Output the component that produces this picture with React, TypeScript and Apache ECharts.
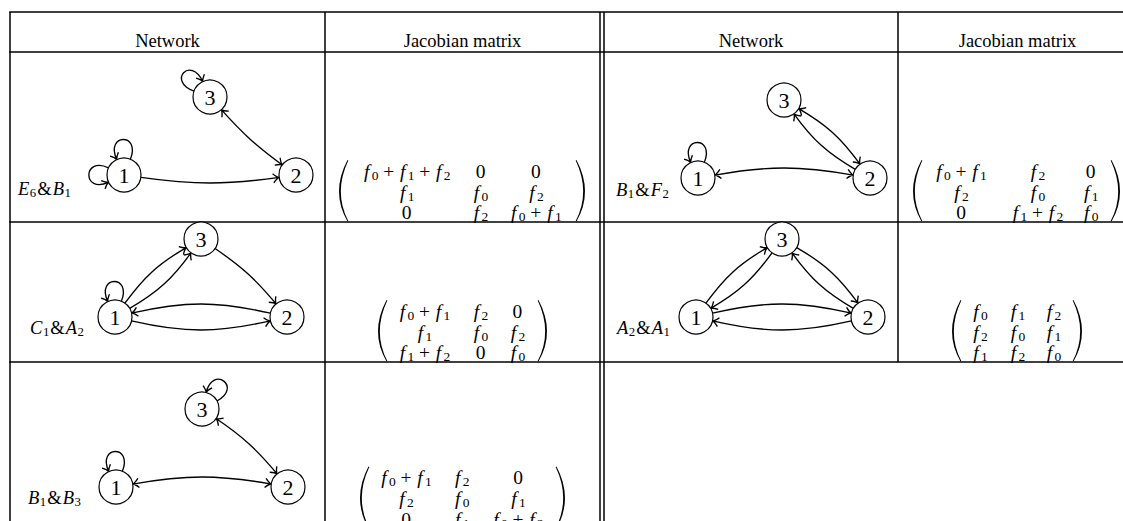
import { useEffect, useRef } from 'react';
import * as echarts from 'echarts';

const W = 1123;
const H = 521;

// ================= DATA =================
const headerLabels = ['Network', 'Jacobian matrix', 'Network', 'Jacobian matrix'];
const networkLabels = ['E6&B1', 'B1&F2', 'C1&A2', 'A2&A1', 'B1&B3'];
const nodeNames = ['1', '2', '3'];

// edges: [from, to, bend in degrees (+ = bends to the left of travel), arrow at start, arrow at end]
const edgesE6B1 = [[1, 2, -8, 0, 1], [3, 2, -6, 1, 1]];
const edgesB1F2 = [[1, 2, 10, 1, 1], [3, 2, 12, 1, 1], [2, 3, 12, 0, 1]];
const edgesC1A2 = [[1, 3, 12, 0, 1], [1, 3, -12, 0, 1], [3, 2, 8, 0, 1], [2, 1, -13, 0, 1], [1, 2, -13, 0, 1]];
const edgesA2A1 = [[1, 3, 12, 0, 1], [3, 1, 12, 0, 1], [3, 2, 12, 0, 1], [2, 3, 12, 0, 1], [1, 2, 13, 0, 1], [2, 1, 13, 0, 1]];
const edgesB1B3 = [[1, 2, 10, 1, 1], [3, 2, 8, 1, 1]];

// self loops: [node, out angle, in angle (arrow)]
const loopsE6B1 = [[1, 68, 115], [1, 155, 205], [3, 160, 115]];
const loopsB1F2 = [[1, 68, 115]];
const loopsC1A2 = [[1, 68, 115]];
const loopsA2A1: number[][] = [];
const loopsB1B3 = [[1, 68, 115], [3, 28, 76]];

const matrixE6B1 = [['f0+f1+f2', '0', '0'], ['f1', 'f0', 'f2'], ['0', 'f2', 'f0+f1']];
const matrixB1F2 = [['f0+f1', 'f2', '0'], ['f2', 'f0', 'f1'], ['0', 'f1+f2', 'f0']];
const matrixC1A2 = [['f0+f1', 'f2', '0'], ['f1', 'f0', 'f2'], ['f1+f2', '0', 'f0']];
const matrixA2A1 = [['f0', 'f1', 'f2'], ['f2', 'f0', 'f1'], ['f1', 'f2', 'f0']];
const matrixB1B3 = [['f0+f1', 'f2', '0'], ['f2', 'f0', 'f1'], ['0', 'f1', 'f0+f2']];

const networkEdges = [edgesE6B1, edgesB1F2, edgesC1A2, edgesA2A1, edgesB1B3];
const networkLoops = [loopsE6B1, loopsB1F2, loopsC1A2, loopsA2A1, loopsB1B3];
const networkMatrices = [matrixE6B1, matrixB1F2, matrixC1A2, matrixA2A1, matrixB1B3];

// ================= LAYOUT =================
const FAM = '"Liberation Serif"';
const HEADER_SIZE = 18.5;
const LABEL_SIZE = 18.5;
const MATRIX_SIZE = 19.5;
const NODE_R = 17;
const HEADER_POS = [[167.5, 41], [462.5, 41], [751, 41], [1017.5, 41]];
const NODE1_POS = [[124, 175], [698, 178], [115, 317], [696, 317], [116, 487]];
const TRIANGLE = [[0, 0], [172, 0], [86, -78]];
const LABEL_POS = [[18, 189], [616, 190], [30, 328], [617, 328], [28, 498]];
const MATRIX_LAYOUT = [
  { cols: [406.7, 480.5, 535.8], rows: [171, 192, 212], lp: 339, rp: 585 },
  { cols: [961, 1037.5, 1090.7], rows: [171, 192, 212], lp: 913, rp: 1120 },
  { cols: [424.5, 480.5, 517.3], rows: [311, 332, 352], lp: 378, rp: 547 },
  { cols: [980, 1017.3, 1053.3], rows: [311, 332, 352], lp: 952, rp: 1082 },
  { cols: [406, 461.7, 518], rows: [477.5, 498.5, 519], lp: 360, rp: 565 },
];
const TABLE_LINES = [
  [9.25, 12, W, 12], [9.25, 52, W, 52], [9.25, 222, W, 222], [9.25, 362, W, 362],
  [10, 12, 10, H], [325, 12, 325, H], [600, 12, 600, H], [604, 12, 604, H], [898, 12, 898, 362],
];

// ================= HELPERS =================
let measureCtx: CanvasRenderingContext2D | null = null;
function measure(text: string, font: string): number {
  if (!measureCtx) measureCtx = document.createElement('canvas').getContext('2d');
  if (!measureCtx) return text.length * 8;
  measureCtx.font = font;
  return measureCtx.measureText(text).width;
}

type Tok = { t: string; font: string; dx: number; dy: number };

function layoutPlain(s: string, size: number): Tok[] {
  const font = `${size}px ${FAM}`;
  const w = measure(s, font);
  return [{ t: s, font, dx: -w / 2, dy: 0 }];
}

function layoutMath(s: string, size: number, align: 'center' | 'left'): Tok[] {
  const rm = `${size}px ${FAM}`;
  const it = `italic ${size}px ${FAM}`;
  const sb = `${(size * 0.69).toFixed(1)}px ${FAM}`;
  const toks: Tok[] = [];
  let x = 0;
  for (let i = 0; i < s.length; i++) {
    const ch = s[i];
    const prev = i > 0 ? s[i - 1] : '';
    const next = i < s.length - 1 ? s[i + 1] : '';
    if (/[A-Za-z]/.test(ch)) {
      if (ch === 'f') x += size * 0.06;
      toks.push({ t: ch, font: it, dx: x, dy: 0 });
      x += measure(ch, it) + (/[0-9]/.test(next) ? (ch === 'f' ? size * 0.12 : size * 0.03) : 0);
    } else if (/[0-9]/.test(ch) && /[A-Za-z]/.test(prev)) {
      toks.push({ t: ch, font: sb, dx: x, dy: size * 0.22 });
      x += measure(ch, sb);
    } else if (ch === '+') {
      const gap = size * 0.24;
      x += gap;
      toks.push({ t: ch, font: rm, dx: x, dy: 0 });
      x += measure(ch, rm) + gap;
    } else if (ch === '&') {
      x += 1;
      toks.push({ t: ch, font: rm, dx: x, dy: 0 });
      x += measure(ch, rm) + 1;
    } else {
      toks.push({ t: ch, font: rm, dx: x, dy: 0 });
      x += measure(ch, rm);
    }
  }
  if (align === 'center') toks.forEach((tk) => (tk.dx -= x / 2));
  return toks;
}

function dirv(deg: number): number[] {
  const r = (deg * Math.PI) / 180;
  return [Math.cos(r), -Math.sin(r)];
}

function arrowPath(tx: number, ty: number, ux: number, uy: number): string {
  const nx = -uy;
  const ny = ux;
  const len = 6;
  const half = 4.6;
  const a1 = [tx - len * ux + half * nx, ty - len * uy + half * ny];
  const c1 = [tx - 2.4 * ux + 0.6 * nx, ty - 2.4 * uy + 0.6 * ny];
  const a2 = [tx - len * ux - half * nx, ty - len * uy - half * ny];
  const c2 = [tx - 2.4 * ux - 0.6 * nx, ty - 2.4 * uy - 0.6 * ny];
  return `M${a1[0]} ${a1[1]}Q${c1[0]} ${c1[1]} ${tx} ${ty}Q${c2[0]} ${c2[1]} ${a2[0]} ${a2[1]}`;
}

const LINE_STYLE = { stroke: '#000', fill: 'none', lineWidth: 1.35 };

function buildOption() {
  const blocks: { x: number; y: number; toks: Tok[] }[] = [];
  headerLabels.forEach((h, i) => blocks.push({ x: HEADER_POS[i][0], y: HEADER_POS[i][1], toks: layoutPlain(h, HEADER_SIZE) }));
  networkLabels.forEach((l, i) => blocks.push({ x: LABEL_POS[i][0], y: LABEL_POS[i][1], toks: layoutMath(l, LABEL_SIZE, 'left') }));
  networkMatrices.forEach((m, k) => {
    const lay = MATRIX_LAYOUT[k];
    m.forEach((row, i) =>
      row.forEach((cell, j) => blocks.push({ x: lay.cols[j], y: lay.rows[i], toks: layoutMath(cell, MATRIX_SIZE, 'center') }))
    );
  });

  const edgeData: number[][] = [];
  networkEdges.forEach((es, n) => es.forEach((_e, k) => edgeData.push([NODE1_POS[n][0], NODE1_POS[n][1], n, k])));
  const loopData: number[][] = [];
  networkLoops.forEach((ls, n) => ls.forEach((_l, k) => loopData.push([NODE1_POS[n][0], NODE1_POS[n][1], n, k])));
  const nodeData: { name: string; value: number[] }[] = [];
  NODE1_POS.forEach((o) =>
    TRIANGLE.forEach((t, k) => nodeData.push({ name: nodeNames[k], value: [o[0] + t[0], o[1] + t[1]] }))
  );
  const parenData: number[][] = [];
  MATRIX_LAYOUT.forEach((lay, k) => {
    parenData.push([lay.lp, lay.rows[1], k, 0]);
    parenData.push([lay.rp, lay.rows[1], k, 1]);
  });

  const nodeCenter = (api: any, n: number, idx: number) => {
    const o = NODE1_POS[n];
    const t = TRIANGLE[idx - 1];
    return api.coord([o[0] + t[0], o[1] + t[1]]);
  };

  return {
    animation: false,
    backgroundColor: '#fff',
    grid: { left: 0, right: 0, top: 0, bottom: 0, containLabel: false },
    xAxis: { type: 'value', min: 0, max: W, show: false },
    yAxis: { type: 'value', min: 0, max: H, inverse: true, show: false },
    tooltip: { show: false },
    series: [
      {
        type: 'custom',
        name: 'table',
        coordinateSystem: 'cartesian2d',
        silent: true,
        z: 1,
        encode: { x: [0, 2], y: [1, 3] },
        data: TABLE_LINES,
        renderItem: (_p: any, api: any) => {
          const a = api.coord([api.value(0), api.value(1)]);
          const b = api.coord([api.value(2), api.value(3)]);
          return {
            type: 'line',
            shape: { x1: a[0], y1: a[1], x2: b[0], y2: b[1] },
            style: { stroke: '#000', lineWidth: 1.5 },
          };
        },
      },
      {
        type: 'custom',
        name: 'edges',
        coordinateSystem: 'cartesian2d',
        silent: true,
        z: 2,
        encode: { x: 0, y: 1 },
        data: edgeData,
        renderItem: (_p: any, api: any) => {
          const n = api.value(2);
          const e = networkEdges[n][api.value(3)];
          const c1 = nodeCenter(api, n, e[0]);
          const c2 = nodeCenter(api, n, e[1]);
          const bend = e[2];
          const alpha = (Math.atan2(-(c2[1] - c1[1]), c2[0] - c1[0]) * 180) / Math.PI;
          const d0 = dirv(alpha + bend);
          const d1 = dirv(alpha + 180 - bend);
          const p0 = [c1[0] + NODE_R * d0[0], c1[1] + NODE_R * d0[1]];
          const p3 = [c2[0] + NODE_R * d1[0], c2[1] + NODE_R * d1[1]];
          const L = 0.3915 * Math.hypot(p3[0] - p0[0], p3[1] - p0[1]);
          const p1 = [p0[0] + L * d0[0], p0[1] + L * d0[1]];
          const p2 = [p3[0] + L * d1[0], p3[1] + L * d1[1]];
          let d = `M${p0[0]} ${p0[1]}C${p1[0]} ${p1[1]} ${p2[0]} ${p2[1]} ${p3[0]} ${p3[1]}`;
          if (e[3]) d += arrowPath(p0[0], p0[1], -d0[0], -d0[1]);
          if (e[4]) d += arrowPath(p3[0], p3[1], -d1[0], -d1[1]);
          return { type: 'path', shape: { pathData: d }, style: LINE_STYLE };
        },
      },
      {
        type: 'custom',
        name: 'loops',
        coordinateSystem: 'cartesian2d',
        silent: true,
        z: 2,
        encode: { x: 0, y: 1 },
        data: loopData,
        renderItem: (_p: any, api: any) => {
          const n = api.value(2);
          const l = networkLoops[n][api.value(3)];
          const c = nodeCenter(api, n, l[0]);
          const d0 = dirv(l[1]);
          const d1 = dirv(l[2]);
          const Lp = 29;
          const p0 = [c[0] + NODE_R * d0[0], c[1] + NODE_R * d0[1]];
          const p1 = [c[0] + (NODE_R + Lp) * d0[0], c[1] + (NODE_R + Lp) * d0[1]];
          const p2 = [c[0] + (NODE_R + Lp) * d1[0], c[1] + (NODE_R + Lp) * d1[1]];
          const p3 = [c[0] + NODE_R * d1[0], c[1] + NODE_R * d1[1]];
          let d = `M${p0[0]} ${p0[1]}C${p1[0]} ${p1[1]} ${p2[0]} ${p2[1]} ${p3[0]} ${p3[1]}`;
          d += arrowPath(p3[0], p3[1], -d1[0], -d1[1]);
          return { type: 'path', shape: { pathData: d }, style: LINE_STYLE };
        },
      },
      {
        type: 'scatter',
        name: 'nodes',
        silent: true,
        z: 3,
        symbol: 'circle',
        symbolSize: NODE_R * 2,
        itemStyle: { color: '#fff', borderColor: '#000', borderWidth: 1.2, opacity: 1 },
        label: {
          show: true,
          position: 'inside',
          formatter: '{b}',
          fontFamily: 'Liberation Serif',
          fontSize: 22,
          color: '#000',
        },
        emphasis: { disabled: true },
        data: nodeData,
      },
      {
        type: 'custom',
        name: 'parens',
        coordinateSystem: 'cartesian2d',
        silent: true,
        z: 4,
        encode: { x: 0, y: 1 },
        data: parenData,
        renderItem: (_p: any, api: any) => {
          const lay = MATRIX_LAYOUT[api.value(2)];
          const side = api.value(3);
          const top = api.coord([api.value(0), lay.rows[0] - 11]);
          const mid = api.coord([api.value(0), lay.rows[1]]);
          const bot = api.coord([api.value(0), lay.rows[2] + 9.5]);
          const x = mid[0];
          const s = side === 0 ? 1 : -1;
          const wOut = 8.5;
          const wIn = 9.3;
          const midIn = 1.8;
          const cOut = x - s * wOut;
          const cIn = 2 * (x + s * midIn) - (x + s * wIn);
          const d =
            `M${x + s * wOut} ${top[1]}Q${cOut} ${mid[1]} ${x + s * wOut} ${bot[1]}` +
            `L${x + s * wIn} ${bot[1] - 0.4}Q${cIn} ${mid[1]} ${x + s * wIn} ${top[1] + 0.4}Z`;
          return { type: 'path', shape: { pathData: d }, style: { fill: '#000', stroke: 'none' } };
        },
      },
      {
        type: 'custom',
        name: 'texts',
        coordinateSystem: 'cartesian2d',
        silent: true,
        z: 5,
        encode: { x: 0, y: 1 },
        data: blocks.map((b, i) => [b.x, b.y, i]),
        renderItem: (_p: any, api: any) => {
          const b = blocks[api.value(2)];
          const p = api.coord([api.value(0), api.value(1)]);
          return {
            type: 'group',
            children: b.toks.map((tk) => ({
              type: 'text',
              x: p[0] + tk.dx,
              y: p[1] + tk.dy,
              style: { text: tk.t, font: tk.font, fill: '#000', align: 'left', verticalAlign: 'middle' },
            })),
          };
        },
      },
    ],
  };
}

export default function App() {
  const ref = useRef<HTMLDivElement>(null);
  useEffect(() => {
    if (!ref.current) return;
    const prevMargin = document.body.style.margin;
    document.body.style.margin = '0';
    const chart = echarts.init(ref.current, null, { renderer: 'svg' });
    chart.setOption(buildOption() as any);
    return () => {
      chart.dispose();
      document.body.style.margin = prevMargin;
    };
  }, []);
  return <div ref={ref} style={{ width: W, height: H, background: '#fff' }} />;
}
